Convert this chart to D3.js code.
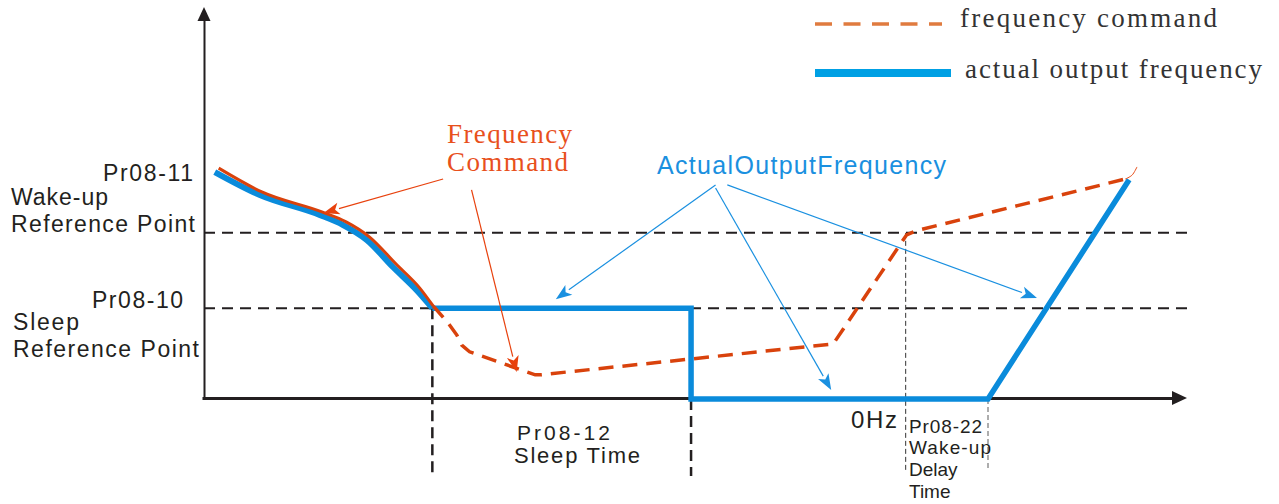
<!DOCTYPE html>
<html>
<head>
<meta charset="utf-8">
<script src="https://cdn.jsdelivr.net/npm/d3@7"></script>
<style>
  body { margin: 0; background: #fff; }
  svg { display: block; }
  .sans { font-family: "Liberation Sans", Arial, sans-serif; fill: #231f20; }
  .serif { font-family: "Liberation Serif", "Times New Roman", serif; }
</style>
</head>
<body>
<div id="chart"></div>
<script>
// Reference levels (frequency units, 0..100)
const wakeRef = 42.6;
const sleepRef = 23.3;

// Time markers (time units, 0..100)
const sleepStart = 23.3;
const sleepEnd = 49.7;
const wakeStart = 71.6;
const wakeDelayEnd = 80;

// Actual output frequency, smooth decel part [t, f]
const actualCurve = [
  [1.1, 58.2], [5.7, 52.3], [11.8, 47.2], [14.2, 44.6],
  [16.6, 40.8], [19.3, 33.8], [21.7, 27.9], [23.3, 23.3]
];
// Actual output frequency, hold / stop / ramp part
const actualSteps = [
  [23.3, 23.3], [49.7, 23.3], [49.7, 0], [80, 0], [94.4, 56.2]
];

// Frequency command, solid part (overlaps the actual curve)
const commandSolid = [
  [1.5, 59.2], [5.9, 53.1], [12.1, 47.9], [14.5, 45.4],
  [16.9, 41.5], [19.6, 34.6], [22.0, 28.5], [23.4, 23.8]
];
// Frequency command, dashed part
const commandDashed = [
  [23.4, 23.8], [24.9, 19.5], [25.8, 16.4], [26.3, 13.8], [27.1, 12.1],
  [33.8, 6.2], [34.3, 6.2], [64.2, 14.1], [71.7, 42.1], [72.6, 43.1], [94.0, 56.4]
];
const commandTail = [[94.0, 56.4], [94.7, 57.4], [95.2, 59.5]];

// Annotation arrows [from, to]
const commandArrows = [
  [[24.4, 56.4], [12.2, 47.7]],
  [[27.3, 53.6], [31.9, 6.9]]
];
const actualArrows = [
  [[52.2, 54.9], [35.9, 25.6]],
  [[52.2, 54.1], [64.0, 2.3]],
  [[53.4, 54.9], [85.0, 25.9]]
];

const legendLabels = ["frequency command", "actual output frequency"];

const width = 1279, height = 504;
const ORANGE = "#d9420c", BLUE = "#0a8bdb", BLACK = "#231f20";

const svg = d3.select("#chart").append("svg")
  .attr("width", width).attr("height", height);

const x = d3.scaleLinear().domain([0, 100]).range([204, 1184]);
const y = d3.scaleLinear().domain([0, 100]).range([399, 9]);

const line = d3.line().x(d => x(d[0])).y(d => y(d[1]));
const smooth = d3.line().x(d => x(d[0])).y(d => y(d[1])).curve(d3.curveMonotoneX);

// Reference dashed lines
[wakeRef, sleepRef].forEach(v => {
  svg.append("line")
    .attr("x1", x(0)).attr("x2", 1188)
    .attr("y1", y(v)).attr("y2", y(v))
    .attr("stroke", BLACK).attr("stroke-width", 2)
    .attr("stroke-dasharray", "11,7");
});

// Time marker lines
svg.append("line")
  .attr("x1", x(sleepStart)).attr("x2", x(sleepStart))
  .attr("y1", y(sleepRef)).attr("y2", 476)
  .attr("stroke", BLACK).attr("stroke-width", 2.5).attr("stroke-dasharray", "11,6");
svg.append("line")
  .attr("x1", x(sleepEnd)).attr("x2", x(sleepEnd))
  .attr("y1", y(0)).attr("y2", 476)
  .attr("stroke", BLACK).attr("stroke-width", 2.5).attr("stroke-dasharray", "11,6");
svg.append("line")
  .attr("x1", x(wakeStart)).attr("x2", x(wakeStart))
  .attr("y1", y(wakeRef)).attr("y2", 472)
  .attr("stroke", "#333").attr("stroke-width", 1).attr("stroke-dasharray", "5,3");
svg.append("line")
  .attr("x1", x(wakeDelayEnd)).attr("x2", x(wakeDelayEnd))
  .attr("y1", y(0)).attr("y2", 470)
  .attr("stroke", "#777").attr("stroke-width", 1.2).attr("stroke-dasharray", "5,3");

// Axes (no ticks, just the domain lines)
const xAxis = svg.append("g")
  .attr("transform", `translate(0,${y(0) - 1})`)
  .call(d3.axisBottom(x.copy().range([202, 1174])).tickValues([]).tickSizeOuter(0));
xAxis.select(".domain").attr("stroke", BLACK).attr("stroke-width", 3);
svg.append("path")
  .attr("d", `M1172,${y(0) - 8}L1187,${y(0) - 1}L1172,${y(0) + 6}Z`)
  .attr("fill", BLACK);

const yAxis = svg.append("g")
  .attr("transform", `translate(${x(0)},0)`)
  .call(d3.axisLeft(y.copy().range([399, 18])).tickValues([]).tickSizeOuter(0));
yAxis.select(".domain").attr("stroke", BLACK).attr("stroke-width", 2);
svg.append("path")
  .attr("d", `M${x(0) - 6.5},21L${x(0)},7L${x(0) + 6.5},21Z`)
  .attr("fill", BLACK);

// Actual output frequency
svg.append("path").datum(actualCurve)
  .attr("d", smooth).attr("fill", "none")
  .attr("stroke", BLUE).attr("stroke-width", 6).attr("stroke-linecap", "butt");
svg.append("path").datum(actualSteps)
  .attr("d", line).attr("fill", "none")
  .attr("stroke", BLUE).attr("stroke-width", 5.5).attr("stroke-linejoin", "miter");

// Frequency command
svg.append("path").datum(commandSolid)
  .attr("d", smooth).attr("fill", "none")
  .attr("stroke", ORANGE).attr("stroke-width", 3);
svg.append("path").datum(commandDashed)
  .attr("d", line).attr("fill", "none")
  .attr("stroke", ORANGE).attr("stroke-width", 3.5)
  .attr("stroke-dasharray", "15,9");
svg.append("path").datum(commandTail)
  .attr("d", d3.line().x(d => x(d[0])).y(d => y(d[1])).curve(d3.curveCatmullRom))
  .attr("fill", "none").attr("stroke", "#e8501c").attr("stroke-width", 1);

// Arrows
function arrow(pair, color, headLen, headW) {
  const [x1, y1] = [x(pair[0][0]), y(pair[0][1])];
  const [x2, y2] = [x(pair[1][0]), y(pair[1][1])];
  const a = Math.atan2(y2 - y1, x2 - x1);
  const bx = x2 - headLen * Math.cos(a), by = y2 - headLen * Math.sin(a);
  svg.append("line")
    .attr("x1", x1).attr("y1", y1).attr("x2", bx).attr("y2", by)
    .attr("stroke", color).attr("stroke-width", 1.2);
  const px = -Math.sin(a) * headW, py = Math.cos(a) * headW;
  svg.append("path")
    .attr("d", `M${x2},${y2}L${bx + px},${by + py}L${bx + headLen * 0.25 * Math.cos(a)},${by + headLen * 0.25 * Math.sin(a)}L${bx - px},${by - py}Z`)
    .attr("fill", color);
}
commandArrows.forEach(p => arrow(p, "#e8410d", 16, 6));
actualArrows.forEach(p => arrow(p, "#1a90e0", 16, 6));

// Text helper
function label(txt, px, py, opts) {
  const t = svg.append("text")
    .attr("x", px).attr("y", py)
    .attr("class", opts.cls || "sans")
    .style("font-size", (opts.size || 21) + "px")
    .text(txt);
  if (opts.anchor) t.attr("text-anchor", opts.anchor);
  if (opts.fill) t.style("fill", opts.fill);
  if (opts.len) t.attr("textLength", opts.len).attr("lengthAdjust", "spacing");
  return t;
}

// Left reference labels
label("Pr08-11", 103, y(wakeRef) - 52, { size: 23, len: 90 });
label("Wake-up", 11, y(wakeRef) - 28, { size: 23, len: 97 });
label("Reference Point", 11, y(wakeRef) - 1, { size: 23, len: 184 });
label("Pr08-10", 92, y(sleepRef), { size: 23, len: 91 });
label("Sleep", 13, y(sleepRef) + 22, { size: 23, len: 66 });
label("Reference Point", 13, y(sleepRef) + 49, { size: 23, len: 186 });

// Bottom labels
label("Pr08-12", 517, 440, { size: 21, len: 93 });
label("Sleep Time", 514, 463, { size: 22, len: 126 });
label("0Hz", 851, 428, { size: 24, len: 46 });
label("Pr08-22", 909, 433, { size: 19, len: 73 });
label("Wake-up", 909, 454, { size: 19, len: 82 });
label("Delay", 909, 476, { size: 19 });
label("Time", 909, 498, { size: 19 });

// Annotation titles
label("Frequency", 447, 143, { cls: "serif", size: 27, fill: "#e8501c", len: 125 });
label("Command", 447, 171, { cls: "serif", size: 27, fill: "#e8501c", len: 121 });
label("ActualOutputFrequency", 657, 174, { size: 25, fill: "#1a90e0", len: 289 });

// Legend
svg.append("line")
  .attr("x1", 815).attr("x2", 942).attr("y1", 24).attr("y2", 24)
  .attr("stroke", "#e07b3f").attr("stroke-width", 3.5)
  .attr("stroke-dasharray", "17,11.5");
svg.append("line")
  .attr("x1", 815).attr("x2", 951).attr("y1", 73).attr("y2", 73)
  .attr("stroke", "#00a0e4").attr("stroke-width", 8);
label(legendLabels[0], 960, 27, { cls: "serif", size: 27, fill: "#333", len: 257 });
label(legendLabels[1], 965, 78, { cls: "serif", size: 27, fill: "#333", len: 297 });
</script>
</body>
</html>
